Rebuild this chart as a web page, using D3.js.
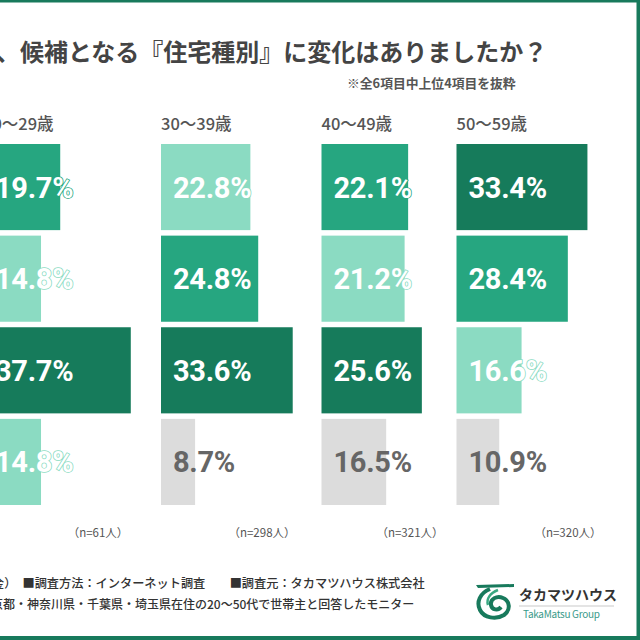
<!DOCTYPE html>
<html>
<meta charset="utf-8">
<style>
body { margin: 0; background: #fff; }
svg { display: block; }
text { font-family: "Noto Sans CJK JP", "Noto Sans", sans-serif; }
.pct { font-family: Roboto, "DejaVu Sans", sans-serif; font-weight: 700; }
</style>
<body>
<svg id="chart" width="640" height="640"></svg>
<script src="https://cdn.jsdelivr.net/npm/d3@7"></script>
<script>
// age groups (first one is cut off by the crop on the left)
var ages = ["20～29歳", "30～39歳", "40～49歳", "50～59歳"];
var sampleSizes = ["（n=61人）", "（n=298人）", "（n=321人）", "（n=320人）"];
// four housing-type rows, their names are outside the crop
var rows = ["item1", "item2", "item3", "item4"];
var v20s = [19.7, 14.8, 37.7, 14.8];
var v30s = [22.8, 24.8, 33.6, 8.7];
var v40s = [22.1, 21.2, 25.6, 16.5];
var v50s = [33.4, 28.4, 16.6, 10.9];
var seriesValues = [v20s, v30s, v40s, v50s];

var titleText = "、候補となる『住宅種別』に変化はありましたか？";
var noteText = "※全6項目中上位4項目を抜粋";
var footer1 = "金）　■調査方法：インターネット調査　　■調査元：タカマツハウス株式会社";
var footer2 = "京都・神奈川県・千葉県・埼玉県在住の20～50代で世帯主と回答したモニター";

var colDark = "#167b5b", colMid = "#26a680", colLight = "#8bdbc2", colGray = "#dcdcdc";
var green = "#187a5c";

var svg = d3.select("#chart");
var colX = [-17, 161, 321.5, 456.5];

var x = d3.scaleLinear().domain([0, 40]).range([0, 156.8]);
var y = d3.scaleBand().domain(rows).range([144, 505]).paddingInner(0.06);

// colour by rank inside the age group (ties share colour, lowest = gray)
function rankColor(vals, v) {
  var sorted = vals.slice().sort(function(a, b) { return b - a; });
  var uniq = sorted.filter(function(d, i) { return sorted.indexOf(d) === i; });
  var r = uniq.indexOf(v);
  if (r == 0) return colDark;
  if (r == 1) return colMid;
  if (r == uniq.length - 1 && vals.filter(function(d){return d===v;}).length == 1 && r >= 3) return colGray;
  return colLight;
}

svg.append("text")
  .attr("x", -4).attr("y", 61)
  .attr("font-size", 24).attr("font-weight", 700).attr("fill", "#444")
  .text(titleText);

svg.append("text")
  .attr("x", 347).attr("y", 88)
  .attr("font-size", 12.8).attr("font-weight", 700).attr("fill", "#555")
  .text(noteText);

var groups = svg.selectAll("g.age")
  .data(ages)
  .enter().append("g")
  .attr("class", "age")
  .attr("transform", function(d, i) { return "translate(" + colX[i] + ",0)"; });

groups.append("text")
  .attr("x", 0).attr("y", 130)
  .attr("font-size", 16.5).attr("font-weight", 500).attr("fill", "#555")
  .text(function(d) { return d; });

groups.each(function(age, gi) {
  var g = d3.select(this);
  var vals = seriesValues[gi];
  var cells = g.selectAll("g.cell")
    .data(vals)
    .enter().append("g").attr("class", "cell");

  cells.append("rect")
    .attr("x", 0)
    .attr("y", function(d, i) { return y(rows[i]); })
    .attr("width", function(d) { return x(d); })
    .attr("height", y.bandwidth())
    .attr("fill", function(d) { return rankColor(vals, d); });

  cells.append("text")
    .attr("class", "pct")
    .attr("x", 12)
    .attr("y", function(d, i) { return y(rows[i]) + y.bandwidth() / 2 + 10.5; })
    .attr("font-size", 29)
    .attr("letter-spacing", -0.3)
    .attr("fill", function(d) { return rankColor(vals, d) == colGray ? "#666" : "#fff"; })
    .attr("stroke", function(d) { var c = rankColor(vals, d); return c == colGray ? "none" : c; })
    .attr("stroke-width", 1.6)
    .attr("paint-order", "stroke")
    .text(function(d) { return d.toFixed(1) + "%"; });
});

var nCenters = [98, 262, 410, 568];
svg.selectAll("text.n")
  .data(sampleSizes)
  .enter().append("text")
  .attr("class", "n")
  .attr("x", function(d, i) { return nCenters[i]; })
  .attr("y", 537)
  .attr("text-anchor", "middle")
  .attr("font-size", 11.5).attr("fill", "#555")
  .text(function(d) { return d; });

svg.append("text")
  .attr("x", -8).attr("y", 588)
  .attr("font-size", 12.2).attr("font-weight", 500).attr("fill", "#333")
  .text(footer1);
svg.append("text")
  .attr("x", -9).attr("y", 609)
  .attr("font-size", 12).attr("font-weight", 500).attr("fill", "#333")
  .text(footer2);

// logo
var logo = svg.append("g").attr("transform", "translate(476,584)");
logo.append("path")
  .attr("d", "M0,1 L38,0 L38,3 L2,4 Z")
  .attr("fill", green);
logo.append("path")
  .attr("d", "M14,5 C4,9 0,18 4,26 C8,34 20,36 28,31 C35,26 34,17 27,14 C21,11 14,15 15,21 C16,26 22,27 25,23")
  .attr("fill", "none").attr("stroke", green).attr("stroke-width", 4);
logo.append("path")
  .attr("d", "M22,6 C14,9 10,15 12,21")
  .attr("fill", "none").attr("stroke", "#3aa882").attr("stroke-width", 2.5);

svg.append("text")
  .attr("x", 519).attr("y", 600)
  .attr("font-size", 14).attr("font-weight", 700).attr("fill", "#333")
  .text("タカマツハウス");
svg.append("line")
  .attr("x1", 519).attr("x2", 614).attr("y1", 606).attr("y2", 606)
  .attr("stroke", "#bbb").attr("stroke-width", 0.8);
svg.append("text")
  .attr("x", 523).attr("y", 618)
  .attr("font-size", 10).attr("fill", "#3a9a8a")
  .attr("letter-spacing", -0.3)
  .text("TakaMatsu Group");

// frame
svg.append("rect").attr("x", 0).attr("y", 0).attr("width", 640).attr("height", 2.5).attr("fill", green);
svg.append("rect").attr("x", 636.5).attr("y", 0).attr("width", 3.5).attr("height", 640).attr("fill", green);
svg.append("rect").attr("x", 0).attr("y", 636).attr("width", 640).attr("height", 4).attr("fill", green);
</script>
</body>
</html>
